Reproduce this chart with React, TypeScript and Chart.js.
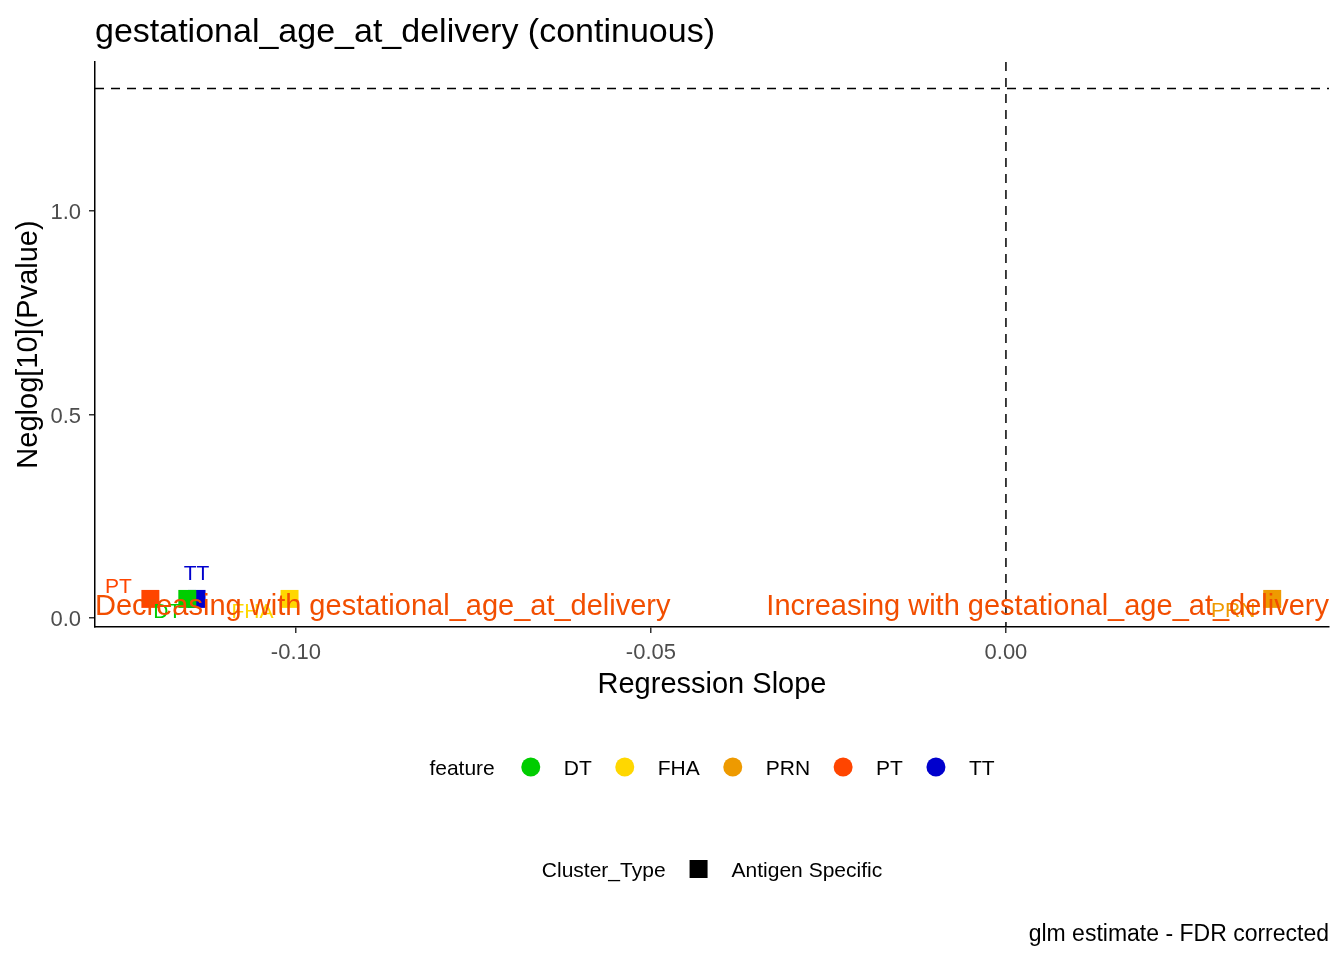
import React, { useEffect, useRef } from 'react';
import { Chart, registerables } from 'chart.js';

Chart.register(...registerables);

// data
const features = ['DT', 'FHA', 'PRN', 'PT', 'TT'];
const featureColors = ['#00CD00', '#FFD700', '#EE9A00', '#FF4500', '#0000CD'];
const slopes = [-0.1153, -0.1009, 0.0375, -0.1205, -0.114];
const negLogP = [0.047, 0.047, 0.047, 0.047, 0.047];
const xTicks = [-0.1, -0.05, 0];
const yTicks = [0, 0.5, 1.0];
const xRange = [-0.1283, 0.0455];
const yRange = [-0.022, 1.366];
const pThreshold = 0.05;
const clusterTypes = ['Antigen Specific'];
const outcome = 'gestational_age_at_delivery';

// ggrepel-like label nudges (px): [dx, dy of baseline]
const labelNudge: Record<string, [number, number]> = {
  DT: [-20, 19],
  FHA: [-37, 19],
  PRN: [-39, 18],
  PT: [-32, -6],
  TT: [0, -19],
};

const FONT = '"Liberation Sans", Arial, Helvetica, sans-serif';
const annotColor = '#F24E00';

const overlay = {
  id: 'overlay',
  beforeDatasetsDraw(chart: any) {
    const { ctx, chartArea: a, scales } = chart;
    const x = scales.x;
    const y = scales.y;
    ctx.save();
    ctx.strokeStyle = '#000';
    ctx.lineWidth = 1.5;
    ctx.setLineDash([9, 7]);
    const hy = y.getPixelForValue(-Math.log10(pThreshold));
    ctx.beginPath();
    ctx.moveTo(a.left, hy);
    ctx.lineTo(a.right, hy);
    ctx.stroke();
    const vx = x.getPixelForValue(0);
    ctx.beginPath();
    ctx.moveTo(vx, a.top);
    ctx.lineTo(vx, a.bottom);
    ctx.stroke();
    ctx.restore();
  },
  afterDatasetsDraw(chart: any) {
    const { ctx, chartArea: a, scales } = chart;
    const x = scales.x;
    const y = scales.y;
    ctx.save();
    // point labels
    ctx.font = `21px ${FONT}`;
    ctx.textAlign = 'center';
    ctx.textBaseline = 'alphabetic';
    features.forEach((f, i) => {
      const px = x.getPixelForValue(slopes[i]);
      const py = y.getPixelForValue(negLogP[i]);
      const [dx, dy] = labelNudge[f];
      ctx.fillStyle = featureColors[i];
      ctx.fillText(f, px + dx, py + dy);
    });
    // direction annotations
    ctx.font = `29px ${FONT}`;
    ctx.fillStyle = annotColor;
    const ay = y.getPixelForValue(0.008);
    ctx.textAlign = 'left';
    ctx.fillText(`Decreasing with ${outcome}`, a.left, ay);
    ctx.textAlign = 'right';
    ctx.fillText(`Increasing with ${outcome}`, a.right, ay);
    ctx.restore();
  },
  afterDraw(chart: any) {
    const { ctx, chartArea: a } = chart;
    const cx = (a.left + a.right) / 2;
    ctx.save();
    ctx.fillStyle = '#000';
    ctx.textBaseline = 'alphabetic';

    // title
    ctx.font = `34px ${FONT}`;
    ctx.textAlign = 'left';
    ctx.fillText(`${outcome} (continuous)`, a.left, 42);

    // axis titles
    ctx.font = `29px ${FONT}`;
    ctx.textAlign = 'center';
    ctx.fillText('Regression Slope', cx, a.bottom + 66);
    ctx.save();
    ctx.translate(37, (a.top + a.bottom) / 2);
    ctx.rotate(-Math.PI / 2);
    ctx.fillText('Neglog[10](Pvalue)', 0, 0);
    ctx.restore();

    // legend row 1: feature
    ctx.font = `21px ${FONT}`;
    ctx.textAlign = 'left';
    const gap = 33;
    const titleW = ctx.measureText('feature').width;
    let total = titleW + 3;
    features.forEach((f) => {
      total += gap + gap + ctx.measureText(f).width;
    });
    let lx = cx - total / 2;
    const row1 = 767;
    ctx.fillStyle = '#000';
    ctx.fillText('feature', lx, row1 + 8);
    lx += titleW + 3;
    features.forEach((f, i) => {
      lx += gap;
      ctx.fillStyle = featureColors[i];
      ctx.beginPath();
      ctx.arc(lx, row1, 9.5, 0, Math.PI * 2);
      ctx.fill();
      lx += gap;
      ctx.fillStyle = '#000';
      ctx.fillText(f, lx, row1 + 8);
      lx += ctx.measureText(f).width;
    });

    // legend row 2: Cluster_Type
    const row2 = 869;
    const t2 = 'Cluster_Type';
    const t2w = ctx.measureText(t2).width;
    let total2 = t2w;
    clusterTypes.forEach((c) => {
      total2 += gap + gap + ctx.measureText(c).width;
    });
    let lx2 = cx - total2 / 2;
    ctx.fillStyle = '#000';
    ctx.fillText(t2, lx2, row2 + 8);
    lx2 += t2w;
    clusterTypes.forEach((c) => {
      lx2 += gap;
      ctx.fillRect(lx2 - 9, row2 - 9, 18, 18);
      lx2 += gap;
      ctx.fillText(c, lx2, row2 + 8);
      lx2 += ctx.measureText(c).width;
    });

    // caption
    ctx.font = `23px ${FONT}`;
    ctx.textAlign = 'right';
    ctx.fillText('glm estimate - FDR corrected', a.right, 941);
    ctx.restore();
  },
};

const VolcanoChart: React.FC = () => {
  const canvasRef = useRef<HTMLCanvasElement | null>(null);
  const chartRef = useRef<Chart | null>(null);

  useEffect(() => {
    if (!canvasRef.current) return;
    const ctx = canvasRef.current.getContext('2d');
    if (!ctx) return;
    if (chartRef.current) chartRef.current.destroy();

    Chart.defaults.font.family = FONT;

    chartRef.current = new Chart(ctx, {
      type: 'scatter',
      data: {
        datasets: features.map((f, i) => ({
          label: f,
          data: [{ x: slopes[i], y: negLogP[i] }],
          backgroundColor: featureColors[i],
          borderWidth: 0,
          pointStyle: 'rect',
          pointRadius: 12.7,
          pointHoverRadius: 12.7,
        })),
      },
      options: {
        responsive: false,
        animation: false,
        devicePixelRatio: 1,
        events: [],
        layout: { padding: { left: 0, right: 15, top: 62, bottom: 233 } },
        plugins: {
          legend: { display: false },
          tooltip: { enabled: false },
          title: { display: false },
        },
        scales: {
          x: {
            type: 'linear',
            min: xRange[0],
            max: xRange[1],
            afterBuildTicks: (s: any) => {
              s.ticks = xTicks.map((v) => ({ value: v }));
            },
            afterFit: (s: any) => {
              s.height = 100;
            },
            ticks: {
              color: '#4D4D4D',
              font: { size: 22 },
              padding: 7,
              maxRotation: 0,
              callback: (v: any) => Number(v).toFixed(2),
            },
            grid: {
              drawOnChartArea: false,
              drawTicks: true,
              tickLength: 6,
              color: '#333333',
              lineWidth: 1.5,
            },
            border: { display: true, color: '#000', width: 1.5 },
          },
          y: {
            type: 'linear',
            min: yRange[0],
            max: yRange[1],
            afterBuildTicks: (s: any) => {
              s.ticks = yTicks.map((v) => ({ value: v }));
            },
            afterFit: (s: any) => {
              s.width = 95;
            },
            ticks: {
              color: '#4D4D4D',
              font: { size: 22 },
              padding: 8,
              labelOffset: 2,
              callback: (v: any) => Number(v).toFixed(1),
            },
            grid: {
              drawOnChartArea: false,
              drawTicks: true,
              tickLength: 6,
              color: '#333333',
              lineWidth: 1.5,
            },
            border: { display: true, color: '#000', width: 1.5 },
          },
        },
      },
      plugins: [overlay],
    });

    return () => {
      if (chartRef.current) {
        chartRef.current.destroy();
        chartRef.current = null;
      }
    };
  }, []);

  return <canvas ref={canvasRef} width={1344} height={960} />;
};

export default function App() {
  return (
    <div style={{ position: 'absolute', left: 0, top: 0, width: 1344, height: 960, background: '#fff' }}>
      <VolcanoChart />
    </div>
  );
}
